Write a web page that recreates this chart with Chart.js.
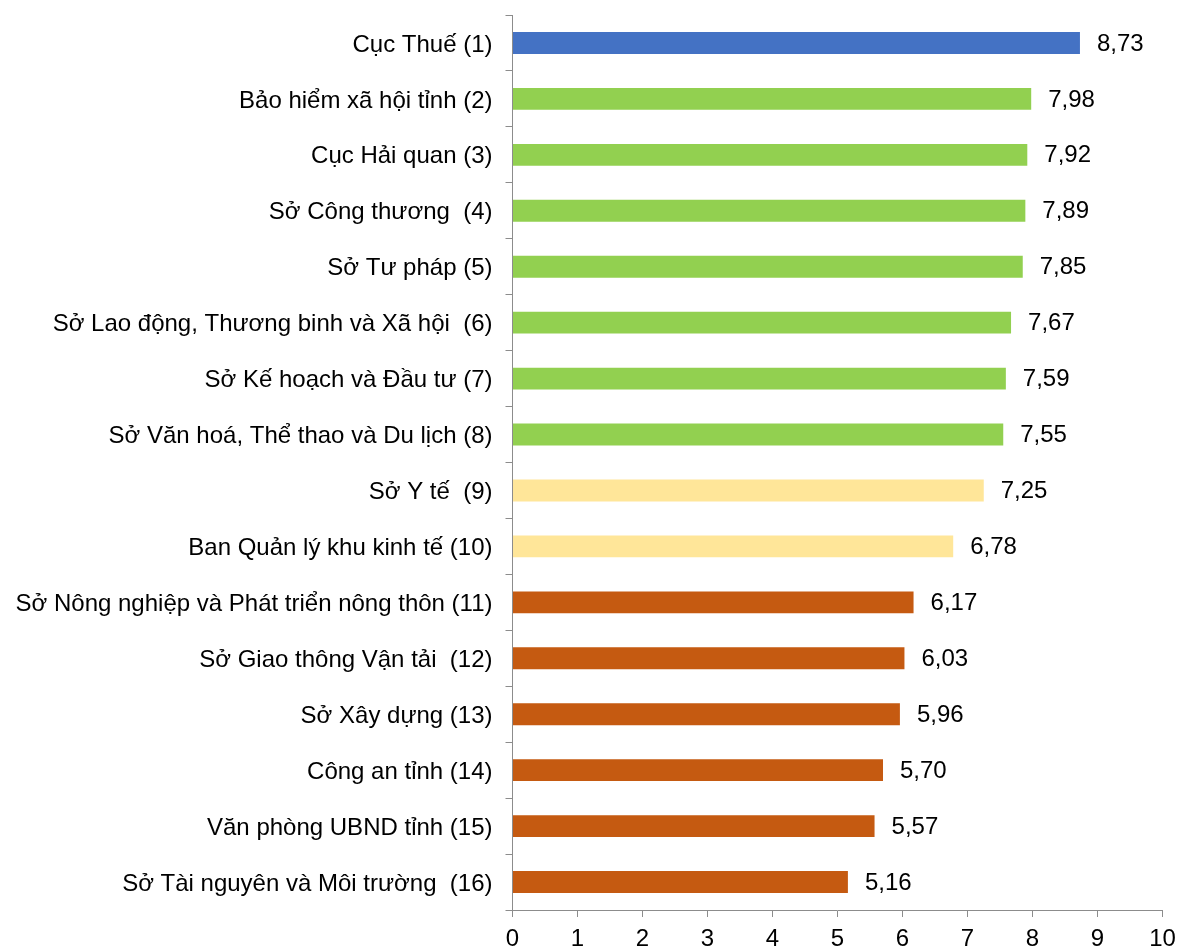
<!DOCTYPE html>
<html>
<head>
<meta charset="utf-8">
<script src="https://cdn.jsdelivr.net/npm/chart.js@4/dist/chart.umd.min.js"></script>
<style>
  html, body { margin: 0; padding: 0; background: #fff; }
  #wrap { width: 1178px; height: 947px; }
</style>
</head>
<body>
<div id="wrap"><canvas id="c" width="1178" height="947"></canvas></div>
<script>
// Đơn vị được đánh giá
const units = [
  'Cục Thuế (1)',
  'Bảo hiểm xã hội tỉnh (2)',
  'Cục Hải quan (3)',
  'Sở Công thương  (4)',
  'Sở Tư pháp (5)',
  'Sở Lao động, Thương binh và Xã hội  (6)',
  'Sở Kế hoạch và Đầu tư (7)',
  'Sở Văn hoá, Thể thao và Du lịch (8)',
  'Sở Y tế  (9)',
  'Ban Quản lý khu kinh tế (10)',
  'Sở Nông nghiệp và Phát triển nông thôn (11)',
  'Sở Giao thông Vận tải  (12)',
  'Sở Xây dựng (13)',
  'Công an tỉnh (14)',
  'Văn phòng UBND tỉnh (15)',
  'Sở Tài nguyên và Môi trường  (16)'
];

// Điểm số
const scores = [8.73, 7.98, 7.92, 7.89, 7.85, 7.67, 7.59, 7.55, 7.25, 6.78, 6.17, 6.03, 5.96, 5.70, 5.57, 5.16];

// Nhóm xếp loại của từng đơn vị
const groups = ['top', 'good', 'good', 'good', 'good', 'good', 'good', 'good', 'mid', 'mid', 'low', 'low', 'low', 'low', 'low', 'low'];

// Trục hoành
const xTicks = [0, 1, 2, 3, 4, 5, 6, 7, 8, 9, 10];

const groupColors = { top: '#4472C4', good: '#92D050', mid: '#FFE699', low: '#C55A11' };
const FONT = 'Arial, "Liberation Sans", sans-serif';

// Ghi giá trị bên phải mỗi thanh
const valueLabels = {
  id: 'valueLabels',
  afterDatasetsDraw(chart) {
    const ctx = chart.ctx;
    const meta = chart.getDatasetMeta(0);
    ctx.save();
    ctx.font = '24px ' + FONT;
    ctx.fillStyle = '#000';
    ctx.textAlign = 'left';
    ctx.textBaseline = 'middle';
    meta.data.forEach((bar, i) => {
      const txt = scores[i].toFixed(2).replace('.', ',');
      ctx.fillText(txt, bar.x + 17, bar.y + 1);
    });
    ctx.restore();
  }
};

new Chart(document.getElementById('c'), {
  type: 'bar',
  data: {
    labels: units,
    datasets: [{
      data: scores,
      backgroundColor: groups.map(g => groupColors[g]),
      barPercentage: 0.39,
      categoryPercentage: 1.0,
      borderWidth: 0
    }]
  },
  options: {
    indexAxis: 'y',
    responsive: false,
    animation: false,
    layout: { padding: { top: 0, right: 15.5, left: 0, bottom: 0 } },
    plugins: { legend: { display: false }, tooltip: { enabled: false } },
    scales: {
      x: {
        min: 0,
        max: 10,
        afterBuildTicks(scale) { scale.ticks = xTicks.map(v => ({ value: v })); },
        afterFit(scale) { scale.height = 37; scale.paddingLeft = 0; scale.paddingRight = 0; },
        grid: { drawOnChartArea: false, drawTicks: true, tickLength: 7, color: '#8c8c8c', lineWidth: 1 },
        border: { display: true, color: '#8c8c8c', width: 1 },
        ticks: { color: '#000', font: { family: FONT, size: 24 }, padding: 8, maxRotation: 0 }
      },
      y: {
        afterFit(scale) { scale.width = 512.5; scale.paddingTop = 15; scale.paddingBottom = 0; },
        grid: { offset: true, drawOnChartArea: false, drawTicks: true, tickLength: 7, color: '#8c8c8c', lineWidth: 1 },
        border: { display: true, color: '#8c8c8c', width: 1 },
        ticks: { color: '#000', font: { family: FONT, size: 24 }, padding: 13, autoSkip: false, labelOffset: 2 }
      }
    }
  },
  plugins: [valueLabels]
});
</script>
</body>
</html>
